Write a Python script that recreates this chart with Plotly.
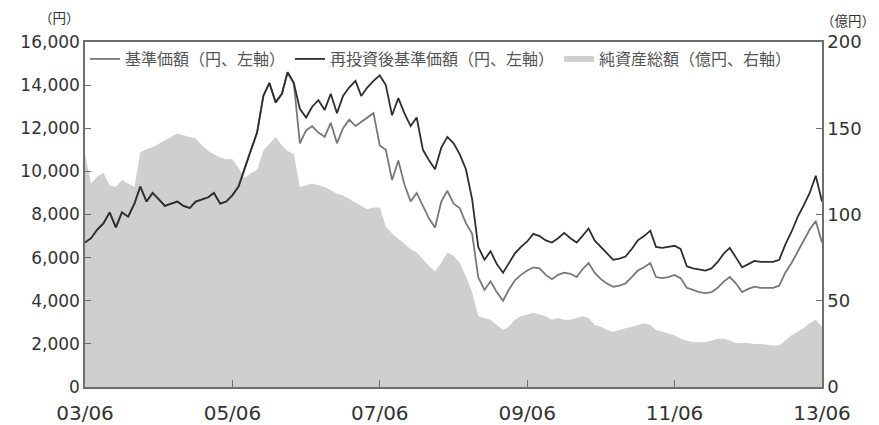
import pandas as pd
import plotly.graph_objects as go

# Monthly observations, 2003/06 .. 2013/06
dates = pd.date_range("2003-06-01", "2013-06-01", freq="MS")

# 基準価額 (円)
base_price = [
    6700, 6900, 7300, 7600, 8100, 7400, 8100, 7900, 8500, 9300,
    8600, 9000, 8700, 8400, 8500, 8600, 8400, 8300, 8600, 8700,
    8800, 9000, 8500, 8600, 8900, 9300, 10100, 11000, 11800, 13500,
    14100, 13200, 13600, 14600, 14100, 11300, 11900, 12100, 11800, 11600,
    12250, 11300, 12000, 12400, 12100, 12300, 12500, 12700, 11200, 11000,
    9600, 10500, 9400, 8600, 9000, 8400, 7800, 7400, 8600, 9100,
    8500, 8300, 7600, 7100, 5100, 4500, 4900, 4400, 4000, 4500,
    4950, 5200, 5400, 5550, 5500, 5200, 5000, 5200, 5300, 5250,
    5100, 5450, 5750, 5300, 5000, 4800, 4650, 4700, 4800, 5100,
    5400, 5550, 5750, 5100, 5050, 5100, 5200, 5050, 4600, 4500,
    4400, 4350, 4400, 4600, 4900, 5100, 4800, 4400, 4550, 4650,
    4600, 4600, 4600, 4700, 5300, 5750, 6300, 6800, 7300, 7700,
    6700,
]

# 再投資後基準価額 (円)
reinvested_price = [
    6700, 6900, 7300, 7600, 8100, 7400, 8100, 7900, 8500, 9300,
    8600, 9000, 8700, 8400, 8500, 8600, 8400, 8300, 8600, 8700,
    8800, 9000, 8500, 8600, 8900, 9300, 10100, 11000, 11800, 13500,
    14100, 13200, 13600, 14600, 14100, 12900, 12500, 13000, 13300, 12850,
    13600, 12700, 13500, 13900, 14200, 13500, 13900, 14200, 14450, 14000,
    12600, 13400, 12700, 12100, 12500, 11000, 10500, 10100, 11100, 11600,
    11300, 10800, 10100, 8700, 6500, 5900, 6300, 5700, 5300, 5700,
    6200, 6500, 6750, 7100, 7000, 6800, 6700, 6900, 7150, 6900,
    6700, 7000, 7350, 6800, 6500, 6200, 5900, 5950, 6050, 6400,
    6800, 7000, 7250, 6500, 6450, 6500, 6550, 6400, 5600, 5500,
    5450, 5400, 5500, 5800, 6200, 6450, 6000, 5550, 5700, 5850,
    5800, 5800, 5800, 5900, 6600, 7200, 7900, 8400, 9000, 9800,
    8600,
]

# 純資産総額 (億円)
net_assets = [
    135, 118, 122, 124, 117, 116, 120, 118, 116, 136,
    138, 139, 141, 143, 145, 147, 146, 145, 144, 140,
    137, 135, 133, 132, 132, 127, 121, 124, 126, 137,
    141, 145, 140, 137, 135, 116, 117, 118, 117, 116,
    114, 112, 111, 109, 107, 105, 103, 104, 104, 93,
    89, 86, 83, 80, 78, 74, 70, 67, 72, 78,
    76, 72, 64, 55, 41, 40, 39, 36, 33, 35,
    39, 41, 42, 43, 42, 41, 39, 40, 39, 39,
    40, 41, 40, 36, 35, 33, 32, 33, 34, 35,
    36, 37, 36, 33, 32, 31, 30, 28, 27, 26,
    26, 26, 27, 28, 28, 27, 25.5, 25.5, 25.5, 25,
    25, 24.5, 24, 24, 27, 30, 32, 34, 37, 39,
    35,
]

tick_dates = ["2003-06-01", "2005-06-01", "2007-06-01", "2009-06-01", "2011-06-01", "2013-06-01"]
tick_labels = ["03/06", "05/06", "07/06", "09/06", "11/06", "13/06"]
left_ticks = list(range(0, 16001, 2000))
right_ticks = [0, 50, 100, 150, 200]

num_font = "DejaVu Sans, Arial, sans-serif"
jp_font = "Noto Sans CJK JP, sans-serif"
axis_col = "#6e6e6e"
text_col = "#333333"

fig = go.Figure()

fig.add_trace(go.Scatter(
    x=dates, y=net_assets, name="純資産総額（億円、右軸）",
    mode="none", fill="tozeroy", fillcolor="#cfcfcf",
    yaxis="y", legendrank=3,
))
fig.add_trace(go.Scatter(
    x=dates, y=base_price, name="基準価額（円、左軸）",
    mode="lines", line=dict(color="#787878", width=1.8),
    yaxis="y2", legendrank=1,
))
fig.add_trace(go.Scatter(
    x=dates, y=reinvested_price, name="再投資後基準価額（円、左軸）",
    mode="lines", line=dict(color="#2e2e2e", width=1.8),
    yaxis="y2", legendrank=2,
))

fig.update_layout(
    width=879, height=425,
    margin=dict(l=85, r=57, t=42, b=38),
    paper_bgcolor="white", plot_bgcolor="white",
    showlegend=True,
    legend=dict(
        orientation="h", x=0.0, y=1.0, xanchor="left", yanchor="top",
        font=dict(family=jp_font, size=16, color="#555555"),
        bgcolor="rgba(0,0,0,0)", itemwidth=30, tracegroupgap=0,
    ),
    xaxis=dict(
        type="date", range=["2003-06-01", "2013-06-01"],
        tickvals=tick_dates, ticktext=tick_labels, automargin=False,
        ticks="inside", ticklen=7, tickcolor=axis_col, tickwidth=1.2,
        ticklabelstandoff=7,
        showline=True, linecolor=axis_col, linewidth=1.5, mirror=True,
        showgrid=False, zeroline=False,
        tickfont=dict(family=num_font, size=20, color=text_col),
    ),
    yaxis=dict(
        side="right", range=[0, 200], tickvals=right_ticks, automargin=False,
        ticks="inside", ticklen=6, tickcolor=axis_col, tickwidth=1.2,
        showline=True, linecolor=axis_col, linewidth=1.5,
        showgrid=False, zeroline=False,
        tickfont=dict(family=num_font, size=18, color=text_col),
    ),
    yaxis2=dict(
        side="left", overlaying="y", range=[0, 16000], tickvals=left_ticks,
        tickformat=",d", automargin=False,
        ticks="inside", ticklen=6, tickcolor=axis_col, tickwidth=1.2,
        showline=True, linecolor=axis_col, linewidth=1.5,
        showgrid=False, zeroline=False,
        tickfont=dict(family=num_font, size=17, color=text_col),
    ),
    annotations=[
        dict(text="（円）", xref="paper", yref="paper", x=-0.035, y=1.0,
             xanchor="center", yanchor="middle", yshift=25, showarrow=False,
             font=dict(family=jp_font, size=13.5, color=text_col)),
        dict(text="（億円）", xref="paper", yref="paper", x=1.035, y=1.0,
             xanchor="center", yanchor="middle", yshift=22, showarrow=False,
             font=dict(family=jp_font, size=13.5, color=text_col)),
    ],
)

fig.write_html("out.html",
               config={"displayModeBar": False},
               post_script="document.body.style.margin='0';document.body.style.padding='0';")
